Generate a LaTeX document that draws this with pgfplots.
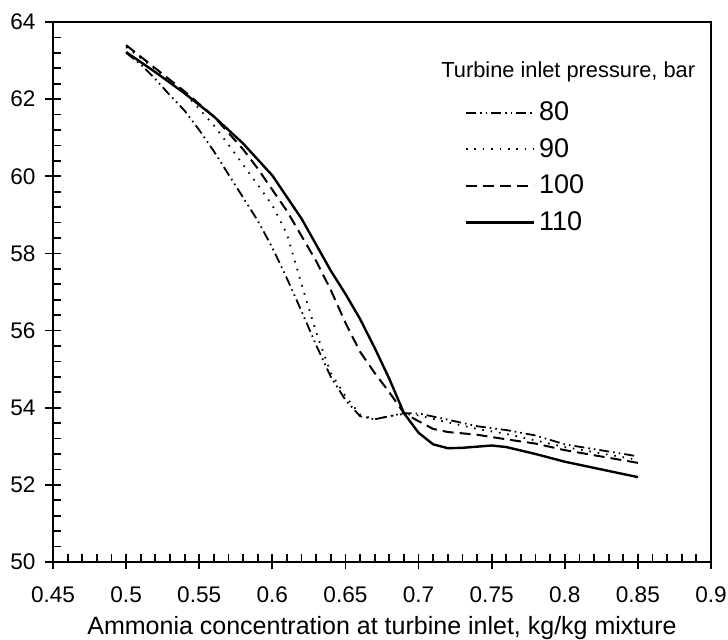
\documentclass[border=0pt]{standalone}
\usepackage{pgfplots}
\pgfplotsset{compat=1.18}
\usepackage{fontspec}
\setmainfont{Liberation Sans}

\begin{document}
\begin{tikzpicture}
\begin{axis}[
  scale only axis,
  width=329pt, height=270pt,
  xmin=0.45, xmax=0.9,
  ymin=50, ymax=64,
  xtick={0.45,0.5,0.55,0.6,0.65,0.7,0.75,0.8,0.85,0.9},
  ytick={50,52,54,56,58,60,62,64},
  minor x tick num=4, minor y tick num=4,
  xtick pos=left, ytick pos=left,
  tick align=center,
  major tick length=7.5pt, minor tick length=3.8pt,
  minor x tick style={yshift=1.9pt},
  minor y tick style={xshift=1.9pt},
  axis line style={line width=1pt},
  tick style={line width=0.9pt, black},
  ticklabel style={font=\fontsize{11.3}{13}\selectfont},
  xticklabel style={yshift=-5pt},
  yticklabel style={xshift=-1.5pt},
  /pgf/number format/assume math mode=true,
  xlabel={Ammonia concentration at turbine inlet, kg/kg mixture},
  xlabel style={font=\fontsize{12.5}{14}\selectfont, at={(rel axis cs:0.5,0)}, anchor=base, yshift=-36.5pt},
  legend style={draw=none, fill=none, at={(rel axis cs:0.616,0.868)}, anchor=north west,
    font=\fontsize{13.5}{15}\selectfont, row sep=3.4pt},
  legend cell align=left,
  legend image code/.code={\draw[#1] (0pt,0pt) -- (34pt,0pt);},
]
\coordinate (o) at (rel axis cs:0,0);
\addplot[black, line width=0.9pt, dash pattern=on 5pt off 2pt on 0.8pt off 2pt on 0.8pt off 2pt] coordinates {
(0.50,63.20) (0.51,62.90) (0.52,62.52) (0.53,62.10) (0.54,61.70) (0.55,61.20)
(0.56,60.65) (0.57,60.05) (0.58,59.45) (0.59,58.85) (0.60,58.15) (0.61,57.35)
(0.62,56.50) (0.63,55.62) (0.64,54.80) (0.65,54.20) (0.66,53.78) (0.67,53.70)
(0.68,53.78) (0.69,53.86) (0.70,53.85) (0.72,53.69) (0.74,53.52) (0.76,53.42)
(0.78,53.28) (0.80,53.05) (0.85,52.74)
};
\addlegendentry{80}
\addplot[black, line width=0.9pt, dash pattern=on 0.8pt off 3.4pt] coordinates {
(0.50,63.35) (0.52,62.78) (0.54,62.15) (0.55,61.75) (0.56,61.32) (0.57,60.82)
(0.58,60.30) (0.59,59.78) (0.60,59.25) (0.61,58.50) (0.62,57.20) (0.63,55.95)
(0.64,54.90) (0.65,54.30) (0.66,53.82) (0.67,53.70) (0.68,53.78) (0.69,53.84)
(0.70,53.80) (0.72,53.62) (0.74,53.45) (0.76,53.32) (0.78,53.15) (0.80,52.98)
(0.85,52.65)
};
\addlegendentry{90}
\addplot[black, line width=1pt, dash pattern=on 5.5pt off 3pt] coordinates {
(0.50,63.40) (0.52,62.80) (0.54,62.20) (0.56,61.55) (0.58,60.70) (0.59,60.20)
(0.60,59.65) (0.61,59.10) (0.62,58.45) (0.63,57.80) (0.64,57.05) (0.65,56.20)
(0.66,55.45) (0.67,54.90) (0.68,54.40) (0.69,53.86) (0.70,53.65) (0.71,53.45)
(0.72,53.37) (0.74,53.30) (0.76,53.18) (0.78,53.07) (0.80,52.90) (0.85,52.57)
};
\addlegendentry{100}
\addplot[black, line width=1.2pt] coordinates {
(0.50,63.22) (0.52,62.70) (0.54,62.15) (0.56,61.55) (0.58,60.85) (0.60,60.02)
(0.62,58.90) (0.64,57.55) (0.65,56.95) (0.66,56.30) (0.67,55.55) (0.68,54.75)
(0.69,53.86) (0.70,53.35) (0.71,53.05) (0.72,52.95) (0.73,52.96) (0.75,53.02)
(0.76,52.98) (0.78,52.80) (0.80,52.60) (0.85,52.20)
};
\addlegendentry{110}
\node[anchor=west, font=\fontsize{10.9}{12}\selectfont, inner sep=0pt]
  at (rel axis cs:0.5897,0.907) {Turbine inlet pressure, bar};
\draw[line width=1pt] (rel axis cs:0,1) -- (rel axis cs:1,1) -- (rel axis cs:1,0);
\end{axis}
\pgfresetboundingbox
\path (o) ++(-26.5pt,-39pt) rectangle ++(364pt,320pt);
\end{tikzpicture}
\end{document}
